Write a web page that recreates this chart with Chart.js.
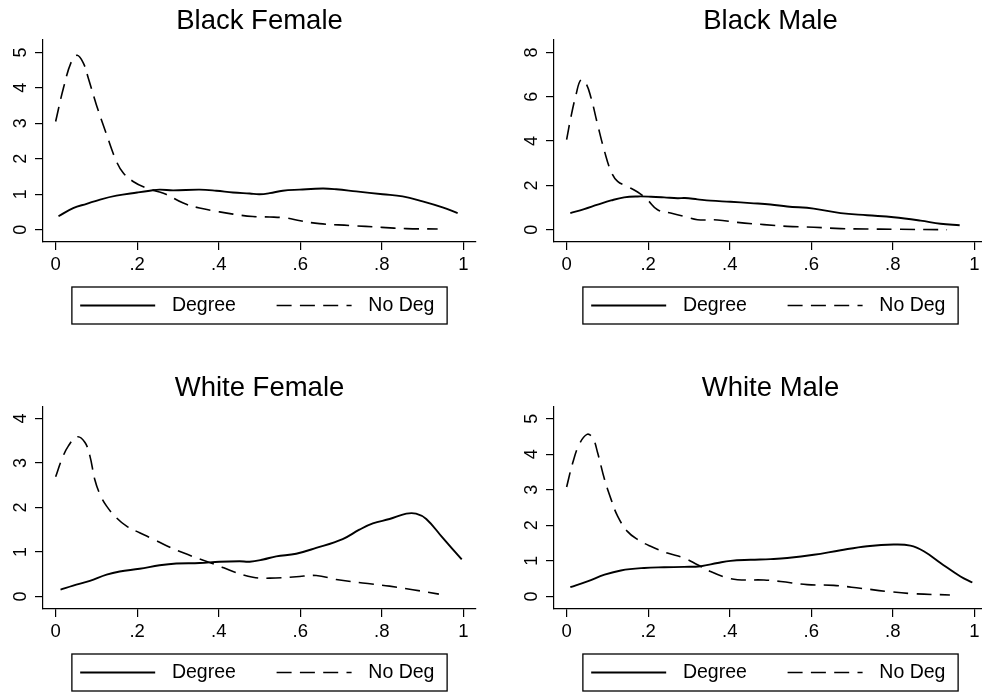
<!DOCTYPE html>
<html>
<head>
<meta charset="utf-8">
<title>Densities by degree</title>
<script src="https://cdn.jsdelivr.net/npm/chart.js@4.4.1/dist/chart.umd.min.js"></script>
<style>
  html, body { margin: 0; padding: 0; background: #fff; overflow: hidden; }
  #wrap { position: relative; width: 982px; height: 694px; overflow: hidden; }
  canvas { position: absolute; }
</style>
</head>
<body>
<div id="wrap">
  <canvas id="bf" width="491" height="327" style="left:0px;top:0px"></canvas>
  <canvas id="bm" width="491" height="327" style="left:511px;top:0px"></canvas>
  <canvas id="wf" width="491" height="327" style="left:0px;top:367px"></canvas>
  <canvas id="wm" width="491" height="327" style="left:511px;top:367px"></canvas>
</div>
<script>
// labels
const seriesLabels = ['Degree', 'No Deg'];
const xTicks = [0, 0.2, 0.4, 0.6, 0.8, 1];
const xTickLabels = ['0', '.2', '.4', '.6', '.8', '1'];

// Black Female
const bfTicks = [0, 1, 2, 3, 4, 5];
const bfDegX = [0.007, 0.043, 0.076, 0.109, 0.149, 0.2, 0.231, 0.255, 0.288, 0.353, 0.394, 0.435, 0.476, 0.5, 0.525, 0.557, 0.598, 0.655, 0.688, 0.737, 0.802, 0.851, 0.9, 0.949, 0.986];
const bfDegY = [0.38, 0.61, 0.73, 0.85, 0.96, 1.05, 1.1, 1.13, 1.11, 1.13, 1.1, 1.05, 1.02, 1.0, 1.03, 1.1, 1.13, 1.16, 1.14, 1.08, 1.0, 0.94, 0.8, 0.63, 0.47];
const bfNoX = [0.0, 0.019, 0.039, 0.053, 0.068, 0.08, 0.1, 0.125, 0.149, 0.166, 0.19, 0.223, 0.25, 0.272, 0.313, 0.353, 0.394, 0.435, 0.484, 0.525, 0.566, 0.6, 0.647, 0.72, 0.8, 0.86, 0.937];
const bfNoY = [3.05, 3.99, 4.75, 4.92, 4.7, 4.28, 3.52, 2.68, 1.93, 1.6, 1.36, 1.17, 1.08, 0.99, 0.75, 0.61, 0.52, 0.44, 0.37, 0.36, 0.33, 0.25, 0.17, 0.12, 0.066, 0.03, 0.02];

// Black Male
const bmTicks = [0, 2, 4, 6, 8];
const bmDegX = [0.009, 0.043, 0.076, 0.109, 0.141, 0.174, 0.207, 0.239, 0.272, 0.29, 0.321, 0.353, 0.402, 0.451, 0.5, 0.541, 0.606, 0.672, 0.737, 0.802, 0.868, 0.917, 0.964];
const bmDegY = [0.75, 0.93, 1.13, 1.32, 1.46, 1.5, 1.49, 1.46, 1.42, 1.43, 1.37, 1.31, 1.26, 1.2, 1.14, 1.05, 0.95, 0.75, 0.65, 0.56, 0.41, 0.27, 0.2];
const bmNoX = [0.0, 0.01, 0.023, 0.035, 0.047, 0.06, 0.076, 0.093, 0.109, 0.125, 0.149, 0.174, 0.198, 0.223, 0.255, 0.288, 0.321, 0.37, 0.419, 0.484, 0.541, 0.606, 0.672, 0.737, 0.802, 0.933];
const bmNoY = [4.06, 5.04, 6.09, 6.77, 6.62, 5.94, 4.74, 3.53, 2.63, 2.18, 1.95, 1.7, 1.35, 0.9, 0.75, 0.6, 0.45, 0.44, 0.33, 0.23, 0.15, 0.11, 0.05, 0.03, 0.02, 0.0];

// White Female
const wfTicks = [0, 1, 2, 3, 4];
const wfDegX = [0.012, 0.043, 0.084, 0.125, 0.157, 0.206, 0.255, 0.296, 0.353, 0.402, 0.451, 0.476, 0.509, 0.541, 0.59, 0.639, 0.704, 0.745, 0.778, 0.819, 0.86, 0.884, 0.909, 0.949, 0.996];
const wfDegY = [0.15, 0.24, 0.35, 0.49, 0.56, 0.62, 0.7, 0.74, 0.75, 0.78, 0.79, 0.78, 0.83, 0.9, 0.96, 1.09, 1.29, 1.5, 1.64, 1.74, 1.86, 1.86, 1.74, 1.32, 0.83];
const wfNoX = [0.0, 0.015, 0.031, 0.053, 0.072, 0.084, 0.096, 0.109, 0.125, 0.149, 0.174, 0.206, 0.239, 0.272, 0.313, 0.353, 0.394, 0.435, 0.484, 0.525, 0.59, 0.639, 0.688, 0.753, 0.819, 0.876, 0.94];
const wfNoY = [2.69, 3.08, 3.38, 3.59, 3.46, 3.16, 2.63, 2.29, 2.03, 1.77, 1.58, 1.43, 1.29, 1.14, 0.98, 0.84, 0.71, 0.56, 0.43, 0.41, 0.44, 0.47, 0.38, 0.3, 0.23, 0.15, 0.05];

// White Male
const wmTicks = [0, 1, 2, 3, 4, 5];
const wmDegX = [0.009, 0.051, 0.093, 0.133, 0.19, 0.239, 0.288, 0.329, 0.37, 0.402, 0.451, 0.5, 0.541, 0.606, 0.672, 0.737, 0.802, 0.843, 0.876, 0.917, 0.966, 0.995];
const wmDegY = [0.26, 0.42, 0.61, 0.73, 0.8, 0.82, 0.83, 0.85, 0.94, 1.0, 1.03, 1.05, 1.08, 1.17, 1.3, 1.41, 1.46, 1.43, 1.27, 0.94, 0.56, 0.39];
const wmNoX = [0.0, 0.015, 0.031, 0.05, 0.064, 0.076, 0.093, 0.109, 0.125, 0.149, 0.174, 0.206, 0.247, 0.288, 0.321, 0.353, 0.386, 0.419, 0.484, 0.525, 0.59, 0.655, 0.72, 0.786, 0.851, 0.94];
const wmNoY = [3.08, 3.76, 4.28, 4.56, 4.46, 4.04, 3.29, 2.73, 2.26, 1.83, 1.6, 1.41, 1.22, 1.08, 0.89, 0.7, 0.55, 0.47, 0.46, 0.42, 0.33, 0.31, 0.23, 0.14, 0.075, 0.04];

const fontFamily = "'Liberation Sans', Arial, Helvetica, sans-serif";
Chart.defaults.font.family = fontFamily;
Chart.defaults.color = '#000';

// stata style: y labels turned on their side
const sideYLabels = {
    id: 'sideYLabels',
    afterDraw(chart) {
        const scale = chart.scales.y;
        const ctx = chart.ctx;
        ctx.save();
        ctx.fillStyle = '#000';
        ctx.font = '18px ' + fontFamily;
        ctx.textAlign = 'center';
        ctx.textBaseline = 'middle';
        scale.ticks.forEach(function (t) {
            ctx.save();
            ctx.translate(scale.right - 22, scale.getPixelForValue(t.value));
            ctx.rotate(-Math.PI / 2);
            ctx.fillText(String(t.value), 0, 0);
            ctx.restore();
        });
        ctx.restore();
    }
};

// legend in a box under the plot
const boxLegend = {
    id: 'boxLegend',
    afterDraw(chart) {
        const ctx = chart.ctx;
        const area = chart.chartArea;
        const sets = chart.data.datasets;
        ctx.save();
        ctx.font = '19.5px ' + fontFamily;
        const keyLen = 75, keyGap = 16.7, colGap = 38.6;
        const textW = Math.max(...sets.map(d => ctx.measureText(d.label).width));
        const colW = keyLen + keyGap + textW;
        const boxW = 2 * colW + colGap + 21;
        const boxH = 37;
        const left = (area.left + area.right) / 2 - boxW / 2;
        const top = area.bottom + 45;
        ctx.strokeStyle = '#000';
        ctx.lineWidth = 1.3;
        ctx.strokeRect(left, top, boxW, boxH);
        const midY = top + boxH / 2;
        sets.forEach(function (d, i) {
            const x0 = left + 8.3 + i * (colW + colGap);
            ctx.beginPath();
            ctx.setLineDash(d.borderDash || []);
            ctx.lineWidth = d.borderWidth;
            ctx.moveTo(x0, midY);
            ctx.lineTo(x0 + keyLen, midY);
            ctx.stroke();
            ctx.setLineDash([]);
            ctx.fillStyle = '#000';
            ctx.textAlign = 'left';
            ctx.textBaseline = 'middle';
            ctx.fillText(d.label, x0 + keyLen + keyGap, midY);
        });
        ctx.restore();
    }
};

function toPoints(xs, ys) {
    return xs.map((x, i) => ({ x: x, y: ys[i] }));
}

function makePanel(id, title, yTicks, yMin, yMax, degX, degY, noX, noY) {
    const ctx = document.getElementById(id).getContext('2d');
    return new Chart(ctx, {
        type: 'line',
        data: {
            datasets: [{
                label: seriesLabels[0],
                data: toPoints(degX, degY),
                borderColor: '#000',
                borderWidth: 1.9,
                pointRadius: 0,
                tension: 0.4,
                fill: false
            }, {
                label: seriesLabels[1],
                data: toPoints(noX, noY),
                borderColor: '#000',
                borderWidth: 1.6,
                borderDash: [15, 8.3],
                pointRadius: 0,
                tension: 0.4,
                fill: false
            }]
        },
        options: {
            responsive: false,
            animation: false,
            events: [],
            // plot region ends at 476px, the rest of the canvas is margin
            layout: { padding: { left: 0, top: 0, bottom: 0, right: 15 } },
            plugins: {
                legend: { display: false },
                tooltip: { enabled: false },
                title: {
                    display: true,
                    text: title,
                    fullSize: false,
                    color: '#000',
                    font: { size: 27.5, weight: 'normal', lineHeight: 1.2 },
                    padding: { top: 4.5, bottom: 2.5 }
                }
            },
            scales: {
                x: {
                    type: 'linear',
                    min: -0.031,
                    max: 1.031,
                    bounds: 'data',
                    afterBuildTicks: function (scale) {
                        scale.ticks = xTicks.map(v => ({ value: v }));
                    },
                    afterFit: function (scale) { scale.height = 85; },
                    border: { display: true, color: '#000', width: 1.2 },
                    grid: { drawOnChartArea: false, drawTicks: true, tickLength: 8, color: '#000', lineWidth: 1.2 },
                    ticks: {
                        autoSkip: false,
                        maxRotation: 0,
                        padding: 4,
                        color: '#000',
                        font: { size: 18.5 },
                        callback: function (value, index) {
                            return xTickLabels[index];
                        }
                    }
                },
                y: {
                    type: 'linear',
                    min: yMin,
                    max: yMax,
                    bounds: 'data',
                    afterBuildTicks: function (scale) {
                        scale.ticks = yTicks.map(v => ({ value: v }));
                    },
                    afterFit: function (scale) { scale.width = 43; },
                    border: { display: true, color: '#000', width: 1.2 },
                    grid: { drawOnChartArea: false, drawTicks: true, tickLength: 8, color: '#000', lineWidth: 1.2 },
                    ticks: { display: false }
                }
            }
        },
        plugins: [sideYLabels, boxLegend]
    });
}

makePanel('bf', 'Black Female', bfTicks, -0.347, 5.35, bfDegX, bfDegY, bfNoX, bfNoY);
makePanel('bm', 'Black Male', bmTicks, -0.555, 8.56, bmDegX, bmDegY, bmNoX, bmNoY);
makePanel('wf', 'White Female', wfTicks, -0.284, 4.26, wfDegX, wfDegY, wfNoX, wfNoY);
makePanel('wm', 'White Male', wmTicks, -0.355, 5.33, wmDegX, wmDegY, wmNoX, wmNoY);
</script>
</body>
</html>
